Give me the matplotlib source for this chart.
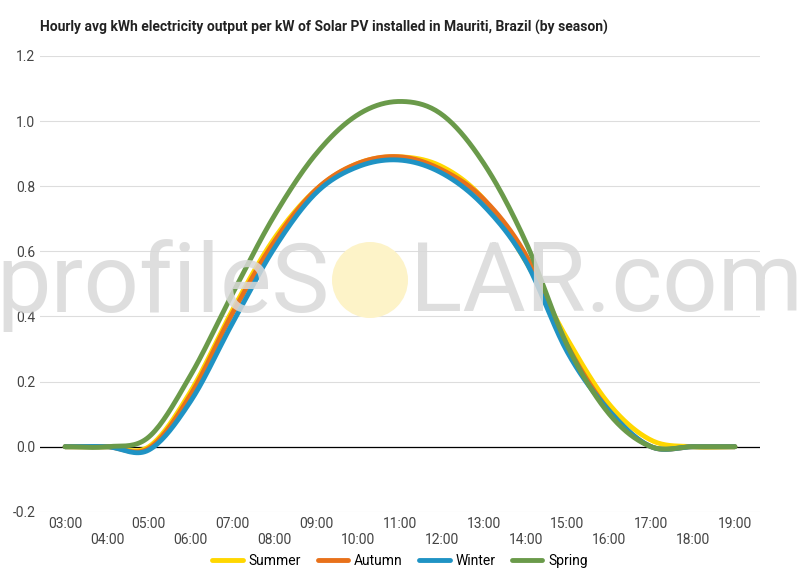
import numpy as np
import matplotlib
matplotlib.use("Agg")
import matplotlib.pyplot as plt
from matplotlib.patches import Ellipse

hours = list(range(3, 20))
tick_labels = [f"{h:02d}:00" for h in hours]
summer = [0, 0, 0.0, 0.17, 0.42, 0.64, 0.79, 0.87, 0.89, 0.86, 0.76, 0.57, 0.33, 0.13, 0.02, 0, 0]
autumn = [0, 0, -0.005, 0.16, 0.41, 0.63, 0.79, 0.87, 0.89, 0.85, 0.76, 0.59, 0.31, 0.11, 0.0, 0, 0]
winter = [0, 0, -0.01, 0.14, 0.38, 0.61, 0.78, 0.86, 0.88, 0.84, 0.74, 0.57, 0.29, 0.11, 0.0, 0, 0]
spring = [0, 0, 0.03, 0.22, 0.47, 0.71, 0.90, 1.02, 1.06, 1.02, 0.87, 0.63, 0.31, 0.10, 0.0, 0, 0]

def smooth(x, y, n=20):
    x = np.asarray(x, float); y = np.asarray(y, float)
    xp = np.concatenate([[2*x[0]-x[1]], x, [2*x[-1]-x[-2]]])
    yp = np.concatenate([[y[0]], y, [y[-1]]])
    xs, ys = [], []
    for i in range(1, len(xp)-2):
        t = np.linspace(0, 1, n, endpoint=False)
        p0, p1, p2, p3 = yp[i-1], yp[i], yp[i+1], yp[i+2]
        yy = 0.5*((2*p1) + (-p0+p2)*t + (2*p0-5*p1+4*p2-p3)*t**2 + (-p0+3*p1-3*p2+p3)*t**3)
        xs.append(xp[i] + t*(xp[i+1]-xp[i])); ys.append(yy)
    xs.append([x[-1]]); ys.append([y[-1]])
    return np.concatenate(xs), np.concatenate(ys)

plt.rcParams['font.family'] = ['Roboto', 'DejaVu Sans']
fig = plt.figure(figsize=(8, 5.7), dpi=100)
ax = fig.add_axes([0.05, 0.102, 0.90, 0.80])
ax.set_xlim(2.4, 19.6)
ax.set_ylim(-0.2, 1.2)
ax.set_yticks(np.arange(-0.2, 1.21, 0.2))
ax.set_yticklabels([f"{v:.1f}" for v in np.arange(-0.2, 1.21, 0.2)], color='#444444', fontsize=10)
ax.grid(axis='y', color='#dddddd', lw=0.8)
ax.axhline(0, color='black', lw=0.9)
for s in ax.spines.values():
    s.set_visible(False)
ax.tick_params(length=0)
ax.set_xticks(hours)
ax.set_xticklabels([l if i % 2 == 0 else "\n" + l for i, l in enumerate(tick_labels)], color='#444444', fontsize=10)

# watermark
fig.add_artist(Ellipse((370/800, 1-280/570), 76/800, 76/570, color='#fdf3c8', ec='none', zorder=0.5))
fig.text(330/800, 1-285/570, "profileS", ha='right', va='center', fontsize=70, color='#d9d9d9', zorder=0, alpha=0.85)
fig.text(410/800, 1-285/570, "LAR.com", ha='left', va='center', fontsize=70, color='#d9d9d9', zorder=0, alpha=0.85)

for data, c, name in [(summer, '#ffd700', 'Summer'), (autumn, '#e8711a', 'Autumn'),
                      (winter, '#1f93c4', 'Winter'), (spring, '#6a9a4a', 'Spring')]:
    xs, ys = smooth(hours, data)
    ax.plot(xs, ys, color=c, lw=3.5, label=name, zorder=3, solid_capstyle='round')

ax.legend(loc='upper center', bbox_to_anchor=(0.5, -0.065), ncol=4, frameon=False,
          fontsize=10, handlelength=2.2, columnspacing=1.2, handletextpad=0.4)
fig.text(0.05, 0.945, "Hourly avg kWh electricity output per kW of Solar PV installed in Mauriti, Brazil (by season)",
         fontsize=10, fontweight='bold', color='#222222')
fig.savefig("out.png", dpi=100)
